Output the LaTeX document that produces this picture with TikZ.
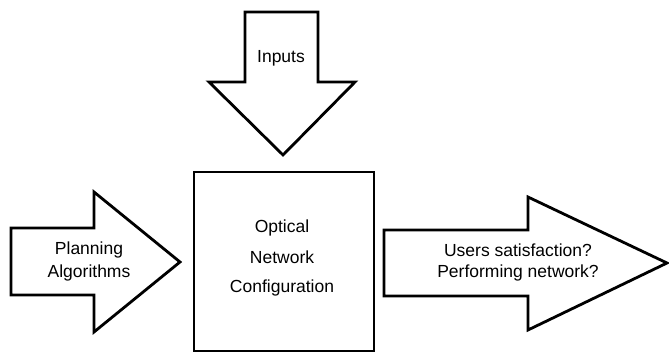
\documentclass[tikz,border=0pt]{standalone}
\usepackage{fontspec}
\setmainfont{Liberation Sans}
\begin{document}
\begin{tikzpicture}[x=1pt,y=-1pt,line width=2.8pt,line join=miter,
  lbl/.style={font=\fontsize{17.5}{20}\selectfont,inner sep=0pt}]
  \useasboundingbox (0,0) rectangle (669,352);
  % big arrow from the top
  \draw (245,12) -- (318,12) -- (318,82) -- (355,82) -- (283,155) -- (209,82) -- (245,82) -- cycle;
  \node[lbl] (inputs) at (281,58) {Inputs};
  % big arrow from the left
  \draw (11,228) -- (94,228) -- (94,192) -- (180,262) -- (94,332) -- (94,295) -- (11,295) -- cycle;
  \node[lbl] (plan) at (89,250) {Planning};
  \node[lbl] (algo) at (89,273) {Algorithms};
  % central box
  \draw (194,172) rectangle (374,351.5);
  \node[lbl] (optical) at (282,228) {Optical};
  \node[lbl] (network) at (282,257) {Network};
  \node[lbl] (config) at (282,288) {Configuration};
  % big arrow to the right
  \draw (384,230) -- (528,230) -- (528,197) -- (667,263) -- (528,330) -- (528,296) -- (384,296) -- cycle;
  \node[lbl] (users) at (518,250) {Users satisfaction?};
  \node[lbl] (perf) at (518,273) {Performing network?};
\end{tikzpicture}
\end{document}
